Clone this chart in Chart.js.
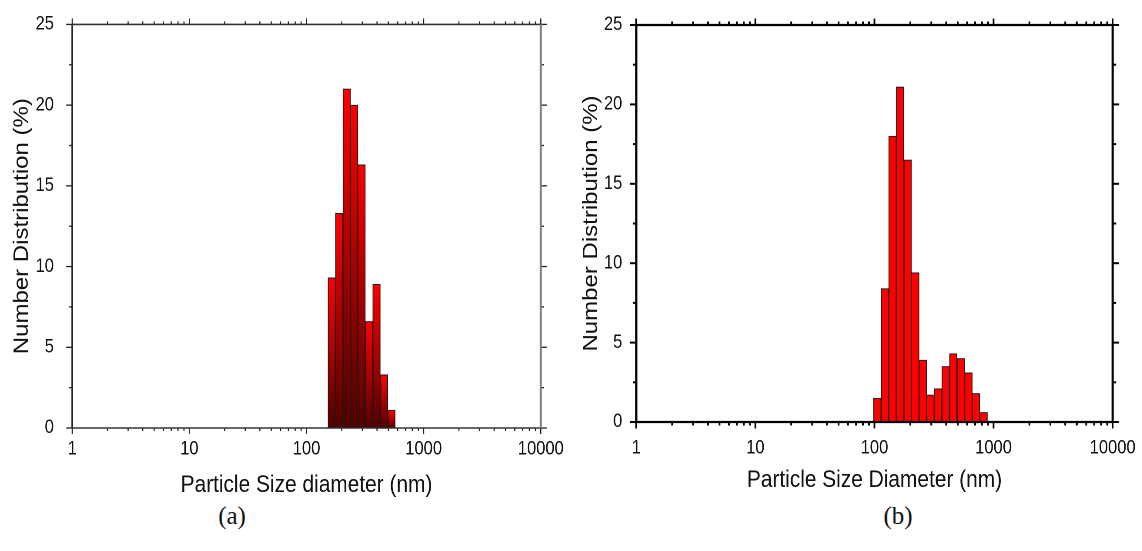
<!DOCTYPE html>
<html>
<head>
<meta charset="utf-8">
<script src="https://cdn.jsdelivr.net/npm/chart.js@4"></script>
<style>
  body { margin: 0; background: #fff; width: 1142px; height: 551px; overflow: hidden; position: relative; }
  .panel { position: absolute; top: 0; height: 500px; transform-origin: 0 0; }
  .cap { position: absolute; top: 502px; font-family: "Liberation Serif", serif; font-size: 25px; color: #111; transform: translateX(-50%); }
</style>
</head>
<body>
<div class="panel" id="wrapA" style="left:0px;width:650px"><canvas id="chartA"></canvas></div>
<div class="panel" id="wrapB" style="left:571px;width:656px"><canvas id="chartB"></canvas></div>
<div class="cap" style="left:232px">(a)</div>
<div class="cap" style="left:898px">(b)</div>

<script>
// size bins (nm) and number distribution (%)
const binsA = [164.2, 190.1, 220.2, 255.0, 295.3, 342.0, 396.1, 458.7, 531.2];
const numA = [9.3, 13.3, 21.0, 20.0, 16.3, 6.6, 8.9, 3.3, 1.1];

const binsB = [105.7, 122.4, 141.8, 164.2, 190.1, 220.2, 255.0, 295.3, 342.0, 396.1, 458.7, 531.2, 615.1, 712.4, 825.0];
const numB = [1.5, 8.4, 18.0, 21.1, 16.5, 9.4, 3.9, 1.7, 2.1, 3.5, 4.3, 4.0, 3.1, 1.8, 0.6];

const xTicks = [1, 10, 100, 1000, 10000];
const yTicks = [0, 5, 10, 15, 20, 25];

// the original figure is a bit squeezed sideways
const squeeze = 0.87;
document.querySelectorAll('.panel').forEach(p => p.style.transform = 'scaleX(' + squeeze + ')');

// box + outward ticks on all four sides
const axisFrame = {
  id: 'axisFrame',
  afterDraw(chart, args, o) {
    const { ctx, chartArea: a, scales: { x, y } } = chart;
    const h = 1 / squeeze;
    ctx.save();
    const seg = (x1, y1, x2, y2, color, w) => {
      ctx.beginPath();
      ctx.strokeStyle = color;
      ctx.lineWidth = w;
      ctx.moveTo(x1, y1);
      ctx.lineTo(x2, y2);
      ctx.stroke();
    };
    // x ticks (bottom + top)
    xTicks.slice(0, -1).forEach(d => {
      for (let k = 2; k < 10; k++) {
        const px = x.getPixelForValue(d * k);
        seg(px, a.bottom, px, a.bottom + o.minor, o.tick, o.tickW);
        seg(px, a.top, px, a.top - o.minor, o.tick, o.tickW);
      }
    });
    xTicks.forEach(v => {
      const px = x.getPixelForValue(v);
      seg(px, a.bottom, px, a.bottom + o.major, o.tick, o.tickW);
      seg(px, a.top, px, a.top - o.major, o.tick, o.tickW);
    });
    // y ticks (left + right)
    yTicks.forEach((v, i) => {
      const py = y.getPixelForValue(v);
      seg(a.left, py, a.left - o.major * h, py, o.tick, o.tickW);
      seg(a.right, py, a.right + o.major * h, py, o.tick, o.tickW);
      if (i > 0) {
        const pm = y.getPixelForValue((v + yTicks[i - 1]) / 2);
        seg(a.left, pm, a.left - o.minor * h, pm, o.tick, o.tickW);
        seg(a.right, pm, a.right + o.minor * h, pm, o.tick, o.tickW);
      }
    });
    // frame
    seg(a.left, a.top, a.right, a.top, o.top, o.lineW);
    seg(a.left, a.bottom, a.right, a.bottom, o.bottom, o.lineW);
    seg(a.left, a.top, a.left, a.bottom, o.left, o.lineW * h);
    seg(a.right, a.top, a.right, a.bottom, o.right, o.lineW * h * o.rightK);
    ctx.restore();
  }
};

function makeChart(id, bins, vals, cfg) {
  const fill = cfg.gradient
    ? (c) => {
        const ys = c.chart.scales.y;
        if (!ys || !c.chart.chartArea || c.parsed == null) return '#e00000';
        const top = ys.getPixelForValue(c.parsed.y);
        const base = ys.getPixelForValue(0);
        if (!isFinite(top) || base - top < 1) return '#e00000';
        const g = c.chart.ctx.createLinearGradient(0, top, 0, base);
        g.addColorStop(0, '#ff0000');
        g.addColorStop(1, '#520000');
        return g;
      }
    : '#ff0000';

  return new Chart(document.getElementById(id), {
    type: 'bar',
    data: {
      datasets: [{
        data: bins.map((b, i) => ({ x: b, y: vals[i] })),
        backgroundColor: fill,
        borderColor: '#1a1a1a',
        borderWidth: 1,
        barPercentage: 1,
        categoryPercentage: 1
      }]
    },
    options: {
      responsive: true,
      maintainAspectRatio: false,
      animation: false,
      devicePixelRatio: 2,
      layout: { autoPadding: false, padding: { left: 0, right: cfg.padRight, top: cfg.padTop, bottom: 0 } },
      plugins: {
        legend: { display: false },
        tooltip: { enabled: false },
        axisFrame: cfg.frame
      },
      scales: {
        x: {
          type: 'logarithmic',
          min: 1,
          max: 10000,
          offset: false,
          grid: { display: false, offset: false },
          border: { display: false },
          afterBuildTicks: s => { s.ticks = xTicks.map(v => ({ value: v })); },
          afterFit: s => { s.height = cfg.xHeight; },
          ticks: {
            autoSkip: false,
            maxRotation: 0,
            padding: cfg.xPad,
            color: '#111',
            font: { family: 'Liberation Sans', size: 19 },
            callback: v => String(v)
          },
          title: {
            display: true,
            text: cfg.xTitle,
            color: '#111',
            padding: { top: 0, bottom: cfg.xTitlePad },
            font: { family: 'Liberation Sans', size: 24 }
          }
        },
        y: {
          min: 0,
          max: 25,
          grid: { display: false },
          border: { display: false },
          afterBuildTicks: s => { s.ticks = yTicks.map(v => ({ value: v })); },
          afterFit: s => { s.width = cfg.yWidth; },
          ticks: {
            padding: cfg.yPad,
            color: '#111',
            font: { family: 'Liberation Sans', size: 19 }
          },
          title: {
            display: true,
            text: 'Number Distribution (%)',
            color: '#111',
            padding: { top: cfg.yTitlePad, bottom: 0 },
            font: { family: 'Liberation Sans', size: 24 }
          }
        }
      }
    },
    plugins: [axisFrame]
  });
}

makeChart('chartA', binsA, numA, {
  gradient: true,
  padRight: 23, padTop: 21, xHeight: 72, yWidth: 83,
  xPad: 2, yPad: 13, xTitlePad: 0, yTitlePad: 11,
  xTitle: 'Particle Size diameter (nm)',
  frame: { major: 6, minor: 3, tick: '#222', tickW: 1.3, lineW: 1.6, top: '#333', bottom: '#333', left: '#222', right: '#808080', rightK: 1.3 }
});

makeChart('chartB', binsB, numB, {
  gradient: false,
  padRight: 33, padTop: 25, xHeight: 78, yWidth: 75,
  xPad: 7, yPad: 8, xTitlePad: 5, yTitlePad: 9,
  xTitle: 'Particle Size Diameter (nm)',
  frame: { major: 6.5, minor: 3.5, tick: '#000', tickW: 2, lineW: 2.2, top: '#000', bottom: '#000', left: '#000', right: '#000', rightK: 1 }
});
</script>
</body>
</html>
